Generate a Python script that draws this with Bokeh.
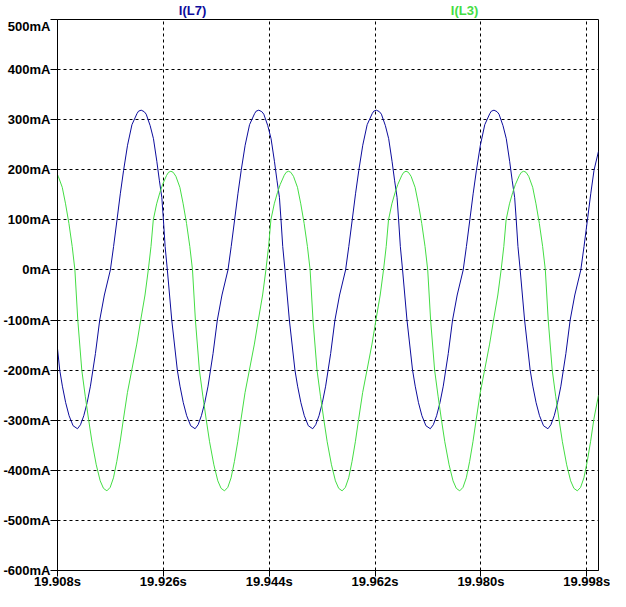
from bokeh.plotting import figure
from bokeh.layouts import column, row, Spacer
from bokeh.models import Range1d, FixedTicker, PrintfTickFormatter, Title
from bokeh.embed import file_html
from bokeh.resources import INLINE

# I(L7) - time (s) and current (mA)
t_l7 = [
    19.90800, 19.90838, 19.90883, 19.90939, 19.90997, 19.91065,
    19.91140, 19.91191, 19.91247, 19.91304, 19.91360, 19.91445, 19.91518, 19.91597, 19.91699, 19.91754,
    19.91812, 19.91868, 19.91924, 19.91991, 19.92066, 19.92151, 19.92178, 19.92223, 19.92274, 19.92308,
    19.92376, 19.92432, 19.92489, 19.92533, 19.92574, 19.92601, 19.92630, 19.92668, 19.92743, 19.92838,
    19.92883, 19.92939, 19.92997, 19.93065,
    19.93140, 19.93191, 19.93247, 19.93304, 19.93360, 19.93445, 19.93518, 19.93597, 19.93699, 19.93754,
    19.93812, 19.93868, 19.93924, 19.93991, 19.94066, 19.94151, 19.94178, 19.94223, 19.94274, 19.94308,
    19.94376, 19.94432, 19.94489, 19.94533, 19.94574, 19.94601, 19.94630, 19.94668, 19.94743, 19.94838,
    19.94883, 19.94939, 19.94997, 19.95065,
    19.95140, 19.95191, 19.95247, 19.95304, 19.95360, 19.95445, 19.95518, 19.95597, 19.95699, 19.95754,
    19.95812, 19.95868, 19.95924, 19.95991, 19.96066, 19.96151, 19.96178, 19.96223, 19.96274, 19.96308,
    19.96376, 19.96432, 19.96489, 19.96533, 19.96574, 19.96601, 19.96630, 19.96668, 19.96743, 19.96838,
    19.96883, 19.96939, 19.96997, 19.97065,
    19.97140, 19.97191, 19.97247, 19.97304, 19.97360, 19.97445, 19.97518, 19.97597, 19.97699, 19.97754,
    19.97812, 19.97868, 19.97924, 19.97991, 19.98066, 19.98151, 19.98178, 19.98223, 19.98274, 19.98308,
    19.98376, 19.98432, 19.98489, 19.98533, 19.98574, 19.98601, 19.98630, 19.98668, 19.98743, 19.98838,
    19.98883, 19.98939, 19.98997, 19.99065,
    19.99140, 19.99191, 19.99247, 19.99304, 19.99360, 19.99445, 19.99518, 19.99597, 19.99699, 19.99754,
    19.99812, 19.99868, 19.99924, 20.00000,
]
i_l7 = [
    -157, -200, -232, -265, -291, -311,
    -317, -309, -291, -265, -232, -167, -100, -50, 0, 47,
    100, 152, 199, 249, 290, 312, 317, 319, 316, 311,
    288, 262, 217, 178, 145, 100, 47, 0, -100, -200,
    -232, -265, -291, -311,
    -317, -309, -291, -265, -232, -167, -100, -50, 0, 47,
    100, 152, 199, 249, 290, 312, 317, 319, 316, 311,
    288, 262, 217, 178, 145, 100, 47, 0, -100, -200,
    -232, -265, -291, -311,
    -317, -309, -291, -265, -232, -167, -100, -50, 0, 47,
    100, 152, 199, 249, 290, 312, 317, 319, 316, 311,
    288, 262, 217, 178, 145, 100, 47, 0, -100, -200,
    -232, -265, -291, -311,
    -317, -309, -291, -265, -232, -167, -100, -50, 0, 47,
    100, 152, 199, 249, 290, 312, 317, 319, 316, 311,
    288, 262, 217, 178, 145, 100, 47, 0, -100, -200,
    -232, -265, -291, -311,
    -317, -309, -291, -265, -232, -167, -100, -50, 0, 47,
    100, 152, 199, 237,
]

# I(L3) - time (s) and current (mA)
t_l3 = [
    19.90800, 19.90813, 19.90881, 19.90937, 19.90994, 19.91050, 19.91096, 19.91145, 19.91213, 19.91272,
    19.91328, 19.91386, 19.91459, 19.91526, 19.91582,
    19.91640, 19.91696, 19.91752, 19.91809, 19.91865, 19.91921, 19.91989, 19.92063, 19.92148, 19.92215,
    19.92288, 19.92344, 19.92390, 19.92429, 19.92486, 19.92542, 19.92588, 19.92656, 19.92689, 19.92728,
    19.92767, 19.92813, 19.92881, 19.92937, 19.92994, 19.93050, 19.93096, 19.93145, 19.93213, 19.93272,
    19.93328, 19.93386, 19.93459, 19.93526, 19.93582,
    19.93640, 19.93696, 19.93752, 19.93809, 19.93865, 19.93921, 19.93989, 19.94063, 19.94148, 19.94215,
    19.94288, 19.94344, 19.94390, 19.94429, 19.94486, 19.94542, 19.94588, 19.94656, 19.94689, 19.94728,
    19.94767, 19.94813, 19.94881, 19.94937, 19.94994, 19.95050, 19.95096, 19.95145, 19.95213, 19.95272,
    19.95328, 19.95386, 19.95459, 19.95526, 19.95582,
    19.95640, 19.95696, 19.95752, 19.95809, 19.95865, 19.95921, 19.95989, 19.96063, 19.96148, 19.96215,
    19.96288, 19.96344, 19.96390, 19.96429, 19.96486, 19.96542, 19.96588, 19.96656, 19.96689, 19.96728,
    19.96767, 19.96813, 19.96881, 19.96937, 19.96994, 19.97050, 19.97096, 19.97145, 19.97213, 19.97272,
    19.97328, 19.97386, 19.97459, 19.97526, 19.97582,
    19.97640, 19.97696, 19.97752, 19.97809, 19.97865, 19.97921, 19.97989, 19.98063, 19.98148, 19.98215,
    19.98288, 19.98344, 19.98390, 19.98429, 19.98486, 19.98542, 19.98588, 19.98656, 19.98689, 19.98728,
    19.98767, 19.98813, 19.98881, 19.98937, 19.98994, 19.99050, 19.99096, 19.99145, 19.99213, 19.99272,
    19.99328, 19.99386, 19.99459, 19.99526, 19.99582,
    19.99640, 19.99696, 19.99752, 19.99809, 19.99865, 19.99921, 20.00000,
]
i_l3 = [
    190, 187, 165, 132, 93, 47, 0, -100, -200, -252,
    -298, -343, -389, -421, -436,
    -441, -434, -415, -382, -343, -298, -245, -200, -148, -100,
    -50, 0, 47, 100, 132, 155, 171, 189, 195, 197,
    195, 187, 165, 132, 93, 47, 0, -100, -200, -252,
    -298, -343, -389, -421, -436,
    -441, -434, -415, -382, -343, -298, -245, -200, -148, -100,
    -50, 0, 47, 100, 132, 155, 171, 189, 195, 197,
    195, 187, 165, 132, 93, 47, 0, -100, -200, -252,
    -298, -343, -389, -421, -436,
    -441, -434, -415, -382, -343, -298, -245, -200, -148, -100,
    -50, 0, 47, 100, 132, 155, 171, 189, 195, 197,
    195, 187, 165, 132, 93, 47, 0, -100, -200, -252,
    -298, -343, -389, -421, -436,
    -441, -434, -415, -382, -343, -298, -245, -200, -148, -100,
    -50, 0, 47, 100, 132, 155, 171, 189, 195, 197,
    195, 187, 165, 132, 93, 47, 0, -100, -200, -252,
    -298, -343, -389, -421, -436,
    -441, -434, -415, -382, -343, -298, -250,
]

x_ticks = [19.908, 19.926, 19.944, 19.962, 19.980, 19.998]
y_ticks = [-600, -500, -400, -300, -200, -100, 0, 100, 200, 300, 400, 500]

trace_names = ["I(L7)", "I(L3)"]
blue = "#0c0c9c"
green = "#44dd44"
trace_colors = [blue, green]


def header(width, name, color):
    t = Title(text=name, text_color=color, text_font="Liberation Sans",
              text_font_size="13px", text_font_style="bold", align="center",
              vertical_align="bottom", standoff=0)
    h = figure(width=width, height=18, output_backend="svg", toolbar_location=None,
               title=t, x_axis_type=None, y_axis_type=None,
               min_border=0, min_border_left=0, min_border_right=0,
               min_border_top=0, min_border_bottom=0)
    h.outline_line_color = None
    h.background_fill_color = "white"
    h.border_fill_color = "white"
    return h


head_l7 = header(384, trace_names[0], trace_colors[0])
head_l3 = header(160, trace_names[1], trace_colors[1])
head_pad = Spacer(width=66, height=18)

p = figure(width=610, height=573, output_backend="svg", toolbar_location=None,
           x_range=Range1d(19.908, 20.0), y_range=Range1d(-600, 500),
           min_border_left=57, min_border_right=12, min_border_top=1,
           min_border_bottom=10)
p.background_fill_color = "white"
p.border_fill_color = "white"
p.outline_line_color = "black"
p.outline_line_width = 1
p.outline_line_alpha = 1.0

for ax in (p.xaxis[0], p.yaxis[0]):
    ax.axis_line_color = "black"
    ax.major_tick_line_color = "black"
    ax.major_tick_in = 0
    ax.minor_tick_line_color = None
    ax.major_label_text_font = "Liberation Sans"
    ax.major_label_text_font_style = "bold"
    ax.major_label_text_color = "black"
    ax.major_label_text_font_size = "13px"

p.yaxis.major_tick_out = 7
p.yaxis.major_label_standoff = 0
p.xaxis.major_tick_out = 6
p.xaxis.major_label_standoff = -3

p.xaxis.ticker = FixedTicker(ticks=x_ticks)
p.yaxis.ticker = FixedTicker(ticks=y_ticks)
p.xaxis.formatter = PrintfTickFormatter(format="%.3fs")
p.yaxis.formatter = PrintfTickFormatter(format="%dmA")

p.xgrid.ticker = FixedTicker(ticks=x_ticks)
p.ygrid.ticker = FixedTicker(ticks=y_ticks)
for g in (p.xgrid[0], p.ygrid[0]):
    g.grid_line_color = "black"
    g.grid_line_dash = "3 3"
    g.grid_line_width = 1
    g.grid_line_alpha = 1.0

p.line(t_l7, i_l7, line_color=blue, line_width=1)
p.line(t_l3, i_l3, line_color=green, line_width=1)

layout = column(row(head_l7, head_l3, head_pad, spacing=0), p, spacing=0)
open("out.html", "w").write(file_html(layout, INLINE))
